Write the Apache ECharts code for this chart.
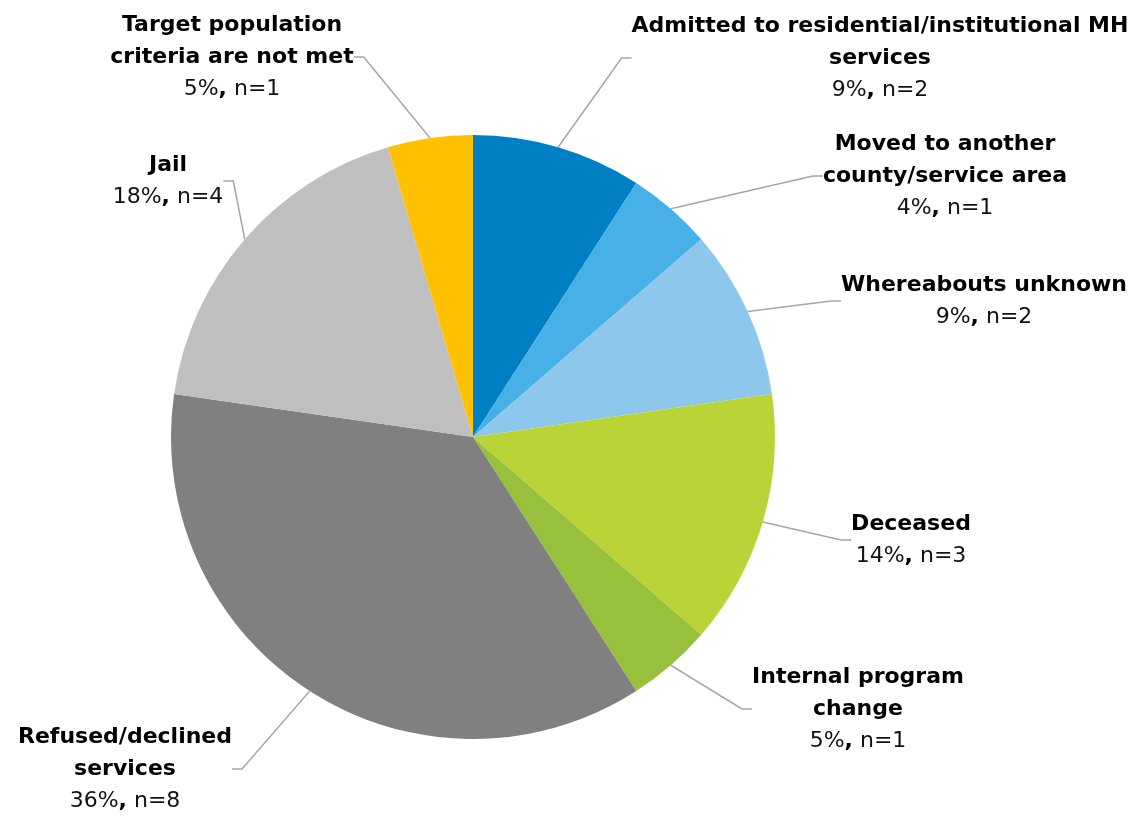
<!DOCTYPE html>
<html>
<head>
<meta charset="utf-8">
<title>Pie</title>
<script src="https://cdn.jsdelivr.net/npm/echarts@6/dist/echarts.min.js"></script>
<style>
  html, body { margin: 0; padding: 0; background: #fff; }
  #chart { width: 1139px; height: 816px; }
</style>
</head>
<body>
<div id="chart"></div>
<script>
// categories, in drawing order (clockwise from 12 o'clock)
const categories = [
  'Admitted to residential/institutional MH\nservices',
  'Moved to another\ncounty/service area',
  'Whereabouts unknown',
  'Deceased',
  'Internal program\nchange',
  'Refused/declined\nservices',
  'Jail',
  'Target population\ncriteria are not met'
]
const counts = [2, 1, 2, 3, 1, 8, 4, 1]          // n
const percentLabels = ['9%', '4%', '9%', '14%', '5%', '36%', '18%', '5%']
const colors = ['#0080C4', '#47B0E6', '#8DC8EC', '#BAD437', '#97C13C', '#808080', '#BFBFBF', '#FFC000']

// label block anchor (top centre of each text block)
const labelPos = [
  [880, 10], [945, 128], [984, 269], [911, 508],
  [858, 661], [125, 721], [168, 149], [232, 9]
]

const chart = echarts.init(document.getElementById('chart'))

const txt = { fontFamily: 'DejaVu Sans', fontSize: 22, lineHeight: 32, align: 'center' }

chart.setOption({
  animation: false,
  series: [{
    type: 'pie',
    center: [473, 437],
    radius: 302,
    startAngle: 90,
    clockwise: true,
    avoidLabelOverlap: false,
    itemStyle: { borderWidth: 0 },
    data: categories.map((name, i) => ({
      name: name,
      value: counts[i],
      itemStyle: { color: colors[i] }
    })),
    label: {
      show: true,
      position: 'outside',
      align: 'center',
      fontFamily: 'DejaVu Sans',
      color: '#000',
      formatter: (p) => {
        const i = p.dataIndex
        const lines = categories[i].split('\n').map(s => '{b|' + s + '}')
        return lines.join('\n') + '\n{v|' + percentLabels[i] + '}{c|,}{v| n=' + counts[i] + '}'
      },
      rich: {
        b: Object.assign({ fontWeight: 'bold', color: '#000' }, txt),
        v: Object.assign({ color: '#111' }, txt),
        c: Object.assign({ fontWeight: 'bold', color: '#000' }, txt)
      }
    },
    labelLine: {
      show: true,
      length: 20,
      length2: 10,
      lineStyle: { color: '#A6A6A6', width: 1.5 }
    },
    labelLayout: (params) => {
      const p = labelPos[params.dataIndex]
      return { x: p[0], y: p[1], align: 'center', verticalAlign: 'top' }
    }
  }]
})
</script>
</body>
</html>
